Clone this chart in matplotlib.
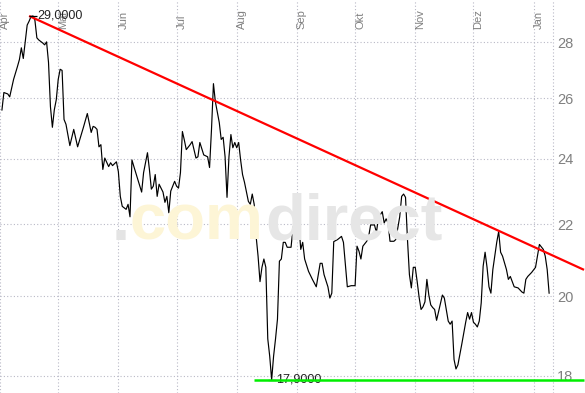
import matplotlib
matplotlib.use("Agg")
import matplotlib.pyplot as plt
import matplotlib.transforms as mtransforms
from matplotlib.ticker import FuncFormatter, NullLocator
import pandas as pd

plt.rcParams["font.family"] = ["Liberation Sans", "DejaVu Sans"]

# ---------------- data ----------------
price_dates = [
    "2007-04-02", "2007-04-03", "2007-04-05", "2007-04-06", "2007-04-08", "2007-04-10", "2007-04-11",
    "2007-04-12", "2007-04-13", "2007-04-14", "2007-04-15", "2007-04-16", "2007-04-17", "2007-04-18",
    "2007-04-19", "2007-04-20", "2007-04-21", "2007-04-23", "2007-04-24", "2007-04-25", "2007-04-26",
    "2007-04-27", "2007-04-28", "2007-04-29", "2007-04-30",
    "2007-05-01", "2007-05-02", "2007-05-03", "2007-05-04", "2007-05-05", "2007-05-07", "2007-05-09",
    "2007-05-11", "2007-05-14", "2007-05-16", "2007-05-18", "2007-05-19", "2007-05-20", "2007-05-21",
    "2007-05-22", "2007-05-23", "2007-05-24", "2007-05-25", "2007-05-27", "2007-05-28", "2007-05-29",
    "2007-05-31",
    "2007-06-01", "2007-06-02", "2007-06-03", "2007-06-05", "2007-06-06", "2007-06-07", "2007-06-08",
    "2007-06-09", "2007-06-11", "2007-06-13", "2007-06-14", "2007-06-16", "2007-06-17", "2007-06-18",
    "2007-06-19", "2007-06-20", "2007-06-21", "2007-06-22", "2007-06-24", "2007-06-25", "2007-06-26",
    "2007-06-27", "2007-06-28", "2007-06-30",
    "2007-07-01", "2007-07-02", "2007-07-03", "2007-07-04", "2007-07-05", "2007-07-06", "2007-07-08",
    "2007-07-09", "2007-07-11", "2007-07-12", "2007-07-13", "2007-07-15", "2007-07-17", "2007-07-18",
    "2007-07-19", "2007-07-20", "2007-07-21", "2007-07-23", "2007-07-24", "2007-07-25", "2007-07-26",
    "2007-07-27", "2007-07-28", "2007-07-29", "2007-07-30", "2007-07-31",
    "2007-08-01", "2007-08-02", "2007-08-03", "2007-08-04", "2007-08-05", "2007-08-06", "2007-08-07",
    "2007-08-08", "2007-08-09", "2007-08-10", "2007-08-11", "2007-08-12", "2007-08-13", "2007-08-14",
    "2007-08-15", "2007-08-16", "2007-08-17", "2007-08-18", "2007-08-19", "2007-08-20", "2007-08-21",
    "2007-08-22", "2007-08-23", "2007-08-24", "2007-08-25", "2007-08-26", "2007-08-27", "2007-08-29",
    "2007-08-30",
    "2007-09-01", "2007-09-02", "2007-09-03", "2007-09-04", "2007-09-05", "2007-09-07", "2007-09-09",
    "2007-09-11", "2007-09-13", "2007-09-14", "2007-09-15", "2007-09-17", "2007-09-18", "2007-09-19",
    "2007-09-20", "2007-09-22", "2007-09-24", "2007-09-25", "2007-09-26", "2007-09-27", "2007-09-29",
    "2007-10-01", "2007-10-02", "2007-10-03", "2007-10-04", "2007-10-05", "2007-10-07", "2007-10-08",
    "2007-10-09", "2007-10-11", "2007-10-12", "2007-10-13", "2007-10-14", "2007-10-15", "2007-10-16",
    "2007-10-17", "2007-10-18", "2007-10-19", "2007-10-21", "2007-10-22", "2007-10-24", "2007-10-25",
    "2007-10-26", "2007-10-27", "2007-10-28", "2007-10-29", "2007-10-30", "2007-10-31",
    "2007-11-01", "2007-11-02", "2007-11-03", "2007-11-04", "2007-11-05", "2007-11-06", "2007-11-07",
    "2007-11-08", "2007-11-09", "2007-11-10", "2007-11-11", "2007-11-12", "2007-11-15", "2007-11-16",
    "2007-11-18", "2007-11-19", "2007-11-20", "2007-11-21", "2007-11-22", "2007-11-23", "2007-11-25",
    "2007-11-27", "2007-11-28", "2007-11-29", "2007-11-30",
    "2007-12-01", "2007-12-02", "2007-12-03", "2007-12-04", "2007-12-05", "2007-12-06", "2007-12-07",
    "2007-12-08", "2007-12-09", "2007-12-10", "2007-12-11", "2007-12-13", "2007-12-14", "2007-12-15",
    "2007-12-16", "2007-12-18", "2007-12-19", "2007-12-20", "2007-12-21", "2007-12-22", "2007-12-24",
    "2007-12-26", "2007-12-27", "2007-12-28", "2007-12-29", "2007-12-31",
    "2008-01-02", "2008-01-03", "2008-01-04", "2008-01-06", "2008-01-07", "2008-01-08", "2008-01-09",
]
price_values = [
    25.60, 26.20, 26.15, 26.05, 26.66, 27.12, 27.37,
    27.80, 27.41, 28.02, 28.65, 28.80, 28.98, 29.00,
    28.83, 28.17, 28.09, 27.98, 27.91, 28.02, 27.27,
    25.71, 25.02, 25.61, 25.95,
    26.66, 27.02, 26.98, 25.28, 25.12, 24.42, 24.95,
    24.38, 25.02, 25.48, 24.85, 25.05, 25.02, 24.95,
    24.38, 24.45, 23.66, 24.02, 23.75, 23.87, 23.78,
    23.90,
    23.59, 22.83, 22.53, 22.44, 22.59, 22.22, 23.96,
    23.75, 23.35, 22.96, 23.56, 24.19, 23.66, 23.05,
    23.14, 23.50, 22.83, 23.20, 22.96, 22.65, 22.83,
    22.34, 22.99, 23.29,
    23.14, 23.08, 23.56, 24.88, 24.60, 24.29, 24.45,
    24.55, 24.02, 24.06, 24.52, 24.12, 24.06, 23.72,
    24.95, 26.51, 25.88, 25.18, 24.62, 24.69, 24.06,
    22.80, 24.06, 24.78, 24.35, 24.52,
    24.35, 24.52, 23.96, 23.50, 23.26, 22.96, 22.68,
    22.59, 22.90, 22.59, 21.65, 21.09, 20.39, 20.78,
    21.01, 20.78, 18.90, 18.47, 17.90, 18.47, 18.90,
    19.40, 20.95, 21.01, 21.48, 21.48, 21.34, 21.34,
    21.90,
    22.19, 22.04, 21.28, 21.48, 21.01, 20.67, 20.45,
    20.25, 20.89, 20.89, 20.58, 20.25, 19.95, 20.08,
    21.50, 21.56, 21.65, 21.48, 20.86, 20.25, 20.28,
    20.28, 21.37, 21.23, 21.01, 21.37, 21.51, 21.65,
    21.98, 21.98, 21.76, 22.19, 22.28, 22.37, 22.04,
    22.16, 22.04, 21.51, 21.51, 21.56, 22.22, 22.83,
    22.90, 22.80, 21.56, 20.58, 20.22, 20.78,
    20.78, 20.39, 19.97, 19.65, 19.72, 19.85, 20.45,
    20.03, 19.77, 19.70, 19.65, 19.37, 20.03, 19.95,
    19.35, 19.27, 19.35, 18.39, 18.16, 18.26, 18.77,
    19.32, 19.57, 19.40, 19.57,
    19.32, 19.27, 19.20, 19.35, 19.82, 20.81, 21.20,
    20.78, 20.25, 20.08, 20.72, 21.48, 21.79, 21.20,
    21.09, 20.72, 20.45, 20.53, 20.39, 20.25, 20.22,
    20.11, 20.08, 20.45, 20.53, 20.64,
    20.78, 21.09, 21.42, 21.28, 21.09, 20.72, 20.08,
]

resistance_dates = ["2007-04-16", "2008-01-27"]
resistance_values = [29.0, 20.71]
support_dates = ["2007-08-10", "2008-01-27"]
support_values = [17.9, 17.9]

month_starts = ["2007-04-01", "2007-05-01", "2007-06-01", "2007-07-01", "2007-08-01",
                "2007-09-01", "2007-10-01", "2007-11-01", "2007-12-01", "2008-01-01"]
month_labels = ["Apr", "Mai", "Jun", "Jul", "Aug", "Sep", "Okt", "Nov", "Dez", "Jan"]
ytick_values = [18, 20, 22, 24, 26, 28]
x_range = ["2007-04-01", "2008-01-11"]
y_range = [17.59, 29.62]

# ---------------- figure ----------------
W, H = 585, 393
fig = plt.figure(figsize=(W / 100, H / 100), dpi=100)
fig.patch.set_facecolor("white")
ax = fig.add_axes([0, 0, 553 / W, 1])
ax.patch.set_alpha(0)

dates = pd.to_datetime(price_dates)
series = pd.Series(price_values, index=dates)

ax.set_yscale("log")
ax.set_ylim(*y_range)
ax.set_xlim(pd.Timestamp(x_range[0]), pd.Timestamp(x_range[1]))

grid_color = "#b9b9c6"
ax.set_yticks(ytick_values)
ax.yaxis.set_minor_locator(NullLocator())
ax.yaxis.set_major_formatter(FuncFormatter(lambda v, p: f"{v:.0f}"))
ax.yaxis.tick_right()
ax.tick_params(axis="y", length=0, pad=3, labelsize=10.5, labelcolor="#808080")
ax.set_xticks(pd.to_datetime(month_starts))
ax.xaxis.set_minor_locator(NullLocator())
ax.tick_params(axis="x", length=0, labelbottom=False)
ax.set_axisbelow(True)
ax.grid(True, color=grid_color, linestyle=(0, (1, 2)), linewidth=0.8)
for s in ax.spines.values():
    s.set_visible(False)
ax.axvline(pd.Timestamp(x_range[1]), color=grid_color, linestyle=(0, (1, 2)),
           linewidth=0.8, clip_on=False, zorder=0.6)

# month labels (rotated, inside the plot at the top)
blend = mtransforms.blended_transform_factory(ax.transData, ax.transAxes)
for d, lab in zip(pd.to_datetime(month_starts), month_labels):
    ax.text(d, 1 - 29 / H, lab, transform=blend, rotation=90, ha="left", va="bottom",
            fontsize=8, color="#808080", zorder=1)

# watermark (light, behind everything)
fig.text(112 / W, 1 - 240 / H, ".", fontsize=47, fontweight="bold", color="#e4e4e4",
         ha="left", va="baseline", zorder=0.2)
fig.text(130 / W, 1 - 240 / H, "com", fontsize=47, fontweight="bold", color="#fdf5d6",
         ha="left", va="baseline", zorder=0.2)
fig.text(265 / W, 1 - 240 / H, "direct", fontsize=47, fontweight="bold", color="#e6e6e6",
         ha="left", va="baseline", zorder=0.2)

# price line
ax.plot(series.index, series.values, color="black", linewidth=0.85, zorder=3)

# trend lines
ax.plot(pd.to_datetime(resistance_dates), resistance_values, color="#ff0000",
        linewidth=1.6, zorder=4, clip_on=False, solid_capstyle="butt")
ax.plot(pd.to_datetime(support_dates), support_values, color="#00ee00",
        linewidth=1.8, zorder=6, clip_on=False, solid_capstyle="butt")

# high / low annotations
hi_date, hi_val = series.idxmax(), series.max()
lo_date, lo_val = series.idxmin(), series.min()
for d, v, off in [(hi_date, hi_val, 3.0), (lo_date, lo_val, 3.5)]:
    ax.plot([d], [v], marker="_", markersize=6, markeredgewidth=0.9, color="black", zorder=5)
    ax.annotate(f"{v:.4f}".replace(".", ","), (d, v), xytext=(off, 0),
                textcoords="offset points", ha="left", va="center",
                fontsize=9, color="#222222", zorder=5, annotation_clip=False)

fig.savefig("out.png", dpi=100)
